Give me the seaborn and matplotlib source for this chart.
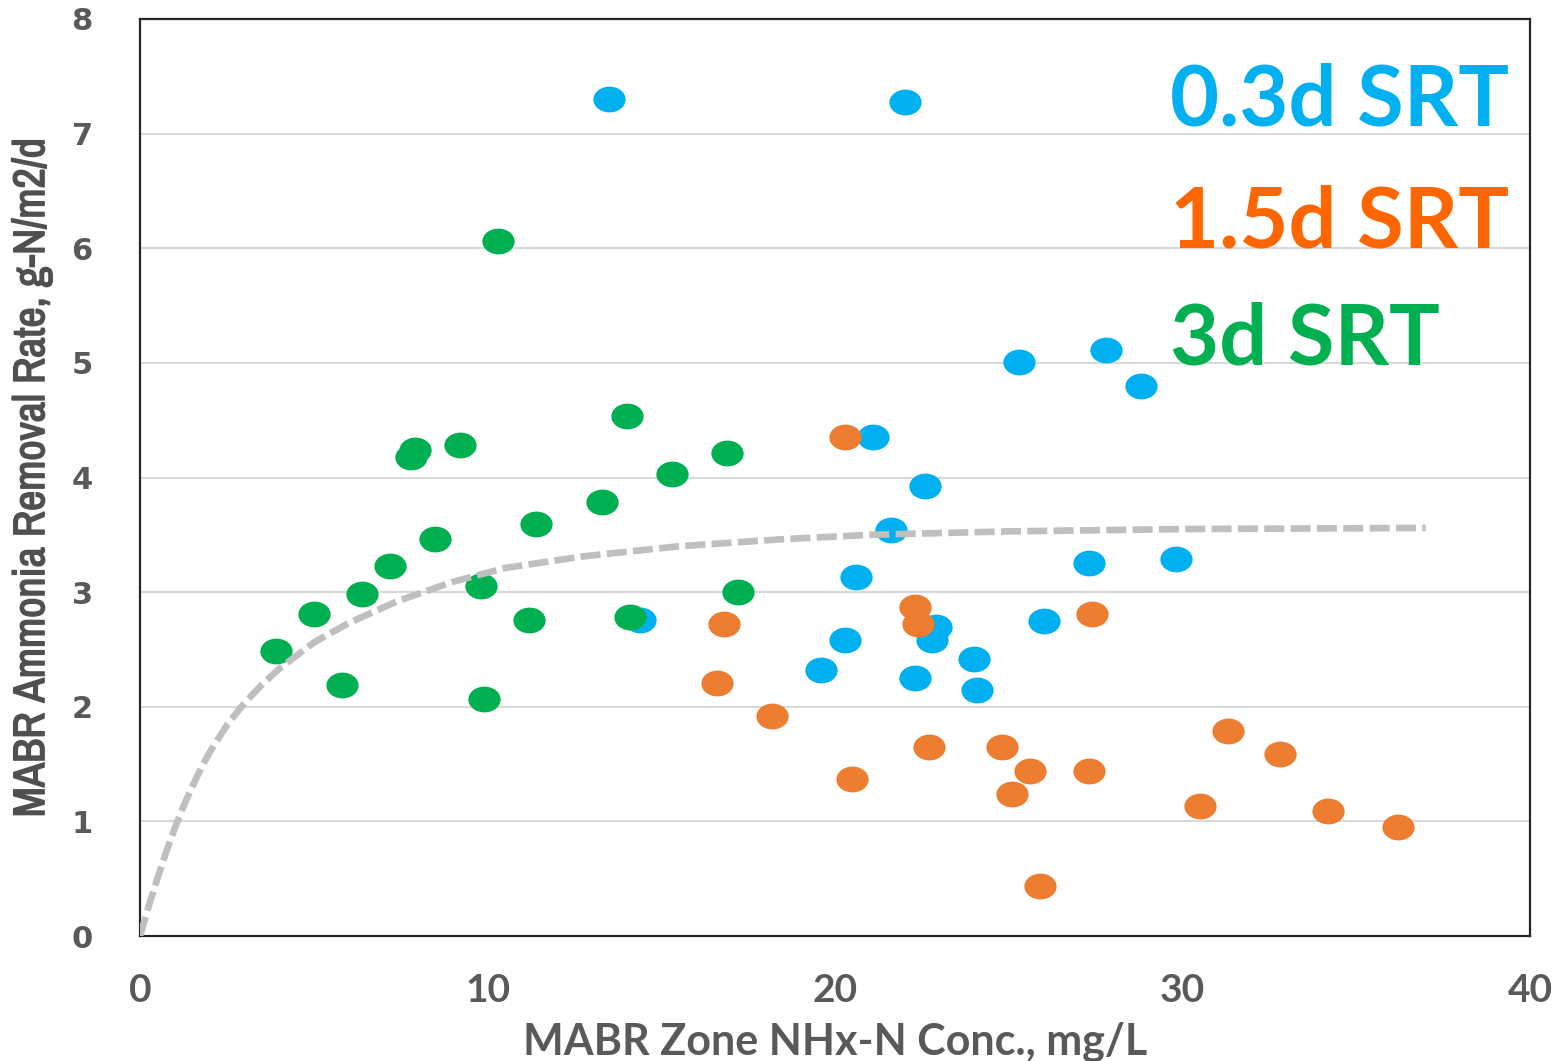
import numpy as np
import pandas as pd
import matplotlib
matplotlib.use("Agg")
import matplotlib.pyplot as plt
import matplotlib.patheffects as pe
from matplotlib.path import Path
from matplotlib.markers import MarkerStyle
from matplotlib.transforms import Affine2D
from matplotlib import font_manager
import seaborn as sns

# 0.3 d SRT
srt03_x = [13.5, 22.0, 25.3, 27.8, 28.8, 21.1, 22.6, 21.6, 20.6, 27.3, 29.8, 26.0,
           14.4, 20.3, 19.6, 22.9, 22.8, 22.3, 24.0, 24.1]
srt03_y = [7.30, 7.28, 5.01, 5.11, 4.80, 4.35, 3.93, 3.54, 3.13, 3.25, 3.29, 2.75,
           2.76, 2.58, 2.32, 2.70, 2.58, 2.25, 2.42, 2.15]

# 1.5 d SRT
srt15_x = [20.3, 22.3, 22.4, 16.8, 27.4, 16.6, 18.2, 22.7, 24.8, 20.5, 25.6, 27.3,
           25.1, 25.9, 31.3, 32.8, 30.5, 34.2, 36.2]
srt15_y = [4.35, 2.87, 2.72, 2.72, 2.81, 2.21, 1.92, 1.65, 1.65, 1.37, 1.44, 1.44,
           1.24, 0.44, 1.79, 1.59, 1.13, 1.09, 0.95]

# 3 d SRT
srt3_x = [3.9, 5.0, 5.8, 6.4, 7.2, 7.8, 7.9, 8.5, 9.2, 9.8, 9.9, 10.3, 11.2, 11.4,
          13.3, 14.0, 14.1, 15.3, 16.9, 17.2]
srt3_y = [2.49, 2.81, 2.19, 2.98, 3.23, 4.18, 4.24, 3.46, 4.28, 3.05, 2.07, 6.06,
          2.76, 3.59, 3.79, 4.54, 2.78, 4.03, 4.21, 3.00]

# saturation trend line
trend_x = [0, 0.25, 0.5, 0.75, 1.0, 1.25, 1.5, 1.75, 2.0, 2.5, 3.0, 3.5, 4.0, 5.0,
           6.0, 7.4, 9.0, 10.5, 12.7, 15.5, 18.4, 21, 25, 30, 37]
trend_y = [0, 0.26, 0.50, 0.73, 0.94, 1.13, 1.30, 1.46, 1.60, 1.84, 2.03, 2.19,
           2.33, 2.56, 2.73, 2.92, 3.09, 3.21, 3.31, 3.40, 3.46, 3.50, 3.53, 3.55,
           3.56]

series_names = ["0.3d SRT", "1.5d SRT", "3d SRT"]
marker_colors = ["#00B0F0", "#ED7D31", "#00B050"]
label_colors = ["#00B0F0", "#FF6600", "#00B050"]

df = pd.concat([
    pd.DataFrame({"conc": srt03_x, "rate": srt03_y, "srt": series_names[0]}),
    pd.DataFrame({"conc": srt15_x, "rate": srt15_y, "srt": series_names[1]}),
    pd.DataFrame({"conc": srt3_x, "rate": srt3_y, "srt": series_names[2]}),
], ignore_index=True)

sns.set_theme(style="white")
grey = "#595959"

fig = plt.figure(figsize=(15.6, 10.61), dpi=100)
ax = fig.add_axes([140 / 1560, 125 / 1061, 1390 / 1560, 917 / 1061])

# flat ellipse marker
ell = Path.unit_circle().transformed(Affine2D().scale(1.0, 0.8))
ell_marker = MarkerStyle(ell)

for name, col in zip(series_names, marker_colors):
    sns.scatterplot(data=df[df["srt"] == name], x="conc", y="rate", ax=ax,
                    color=col, marker=ell_marker, s=540, linewidth=0,
                    legend=False, zorder=3)

sns.lineplot(x=trend_x, y=trend_y, ax=ax, color="#BFBFBF", linewidth=4.8,
             linestyle=(0, (3.0, 0.95)), sort=False, estimator=None, zorder=4)

ax.set_xlim(0, 40)
ax.set_ylim(0, 8)
ax.set_xticks([0, 10, 20, 30, 40])
ax.set_yticks(range(0, 9))
ax.grid(axis="y", color="#D9D9D9", linewidth=1.5)
ax.grid(axis="x", visible=False)
ax.set_axisbelow(True)
for sp in ax.spines.values():
    sp.set_color("#262626")
    sp.set_linewidth(1.6)

ax.tick_params(axis="x", length=0, pad=27, labelsize=28, labelcolor=grey)
ax.tick_params(axis="y", length=0, pad=34, labelsize=22, labelcolor=grey)
for t in ax.get_xticklabels():
    t.set_family("Lato")
    t.set_fontweight("bold")
for t in ax.get_yticklabels():
    t.set_family("DejaVu Sans")
    t.set_fontweight("bold")

ax.set_xlabel("MABR Zone NHx-N Conc., mg/L", fontsize=31, color=grey,
              family="Lato", fontweight="bold", labelpad=9)

# long axis title: prefer a narrow face, then size it to span the plot height
names = sorted({f.name for f in font_manager.fontManager.ttflist})
narrow = [n for n in names if "Narrow" in n or "Condensed" in n]
ylab_family = narrow[0] if narrow else "Lato"
ylab = ax.set_ylabel("MABR Ammonia Removal Rate, g-N/m2/d", fontsize=28,
                     color="#505050", family=ylab_family, fontweight="bold",
                     labelpad=14)
renderer = fig.canvas.get_renderer()
span = ylab.get_window_extent(renderer).height
ylab.set_fontsize(28 * 680 / span)
ylab.set_path_effects([pe.withStroke(linewidth=1.1, foreground="#505050")])

for name, col, yb in zip(series_names, label_colors, [0.884, 0.751, 0.623]):
    ax.text(0.741, yb, name, transform=ax.transAxes, fontsize=61, color=col,
            family="Lato", fontweight="bold", ha="left", va="baseline", zorder=5)

fig.savefig("out.png", dpi=100)
